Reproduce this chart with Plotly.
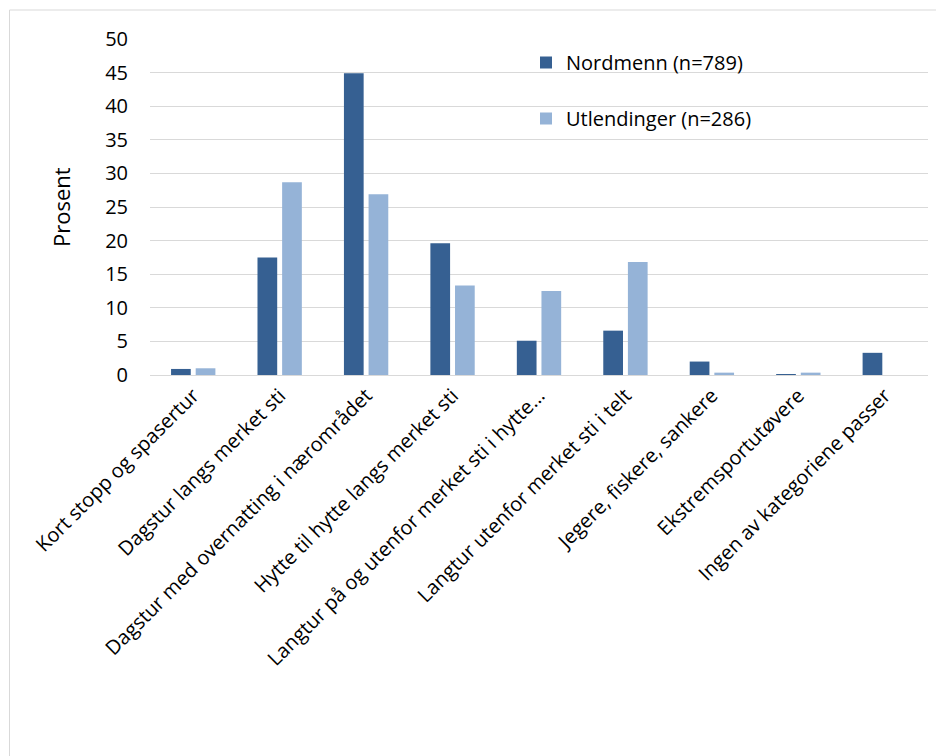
import plotly.graph_objects as go

categories = [
    "Kort stopp og spasertur",
    "Dagstur langs merket sti",
    "Dagstur med overnatting i nærområdet",
    "Hytte til hytte langs merket sti",
    "Langtur på og utenfor merket sti i hytte...",
    "Langtur utenfor merket sti i telt",
    "Jegere, fiskere, sankere",
    "Ekstremsportutøvere",
    "Ingen av kategoriene passer",
]
nordmenn = [0.9, 17.5, 44.9, 19.6, 5.1, 6.6, 2.0, 0.1, 3.3]
utlendinger = [1.0, 28.7, 26.9, 13.3, 12.5, 16.8, 0.35, 0.35, 0.0]
series_names = ["Nordmenn (n=789)", "Utlendinger (n=286)"]
colors = ["#366092", "#95b3d7"]

# page is offset by 8px body margin; coordinates below are in figure pixels
OFF = 8
W, H = 944, 756
L, T = 150 - OFF, 39 - OFF
R = W - (928 - OFF)
B = H - (375 - OFF)
pw, ph = W - L - R, H - T - B

def px_x(px):
    return (px - OFF - L) / pw

def px_y(py):
    return (H - B - (py - OFF)) / ph

FONT = "Open Sans"

fig = go.Figure()
for name, vals, col, grp in [(series_names[0], nordmenn, colors[0], "a"),
                             (series_names[1], utlendinger, colors[1], "b")]:
    fig.add_trace(go.Bar(x=categories, y=vals, name=name, marker_color=col,
                         marker_line_width=0, legendgroup=grp))

fig.update_layout(
    width=W, height=H,
    margin=dict(l=L, r=R, t=T, b=B, autoexpand=False),
    paper_bgcolor="white", plot_bgcolor="white",
    barmode="group", bargap=0.43, bargroupgap=0.2,
    font=dict(family=FONT, color="#000000"),
    showlegend=True,
    legend=dict(x=px_x(526), y=px_y(43), xanchor="left", yanchor="top",
                font=dict(size=20, family=FONT), tracegroupgap=27,
                traceorder="grouped", bgcolor="rgba(0,0,0,0)",
                itemwidth=30),
    xaxis=dict(tickangle=-45, tickfont=dict(size=20, family=FONT),
               showline=True, linecolor="#d9d9d9", linewidth=1, ticks=""),
    yaxis=dict(range=[0, 50], dtick=5, showgrid=True, gridcolor="#d9d9d9",
               gridwidth=1, zeroline=False, tickfont=dict(size=20, family=FONT),
               ticklabelstandoff=21),
    annotations=[dict(text="Prosent", x=px_x(61), y=px_y(207), xref="paper",
                      yref="paper", showarrow=False, textangle=-90,
                      font=dict(size=22, family=FONT), xanchor="center",
                      yanchor="middle")],
    shapes=[
        dict(type="line", xref="paper", yref="paper", x0=px_x(9.5), x1=px_x(W + 20),
             y0=px_y(10), y1=px_y(10), line=dict(color="#d9d9d9", width=1)),
        dict(type="line", xref="paper", yref="paper", x0=px_x(9.5), x1=px_x(9.5),
             y0=px_y(10), y1=px_y(H + 20), line=dict(color="#d9d9d9", width=1)),
    ],
)

fig.write_html("out.html")
